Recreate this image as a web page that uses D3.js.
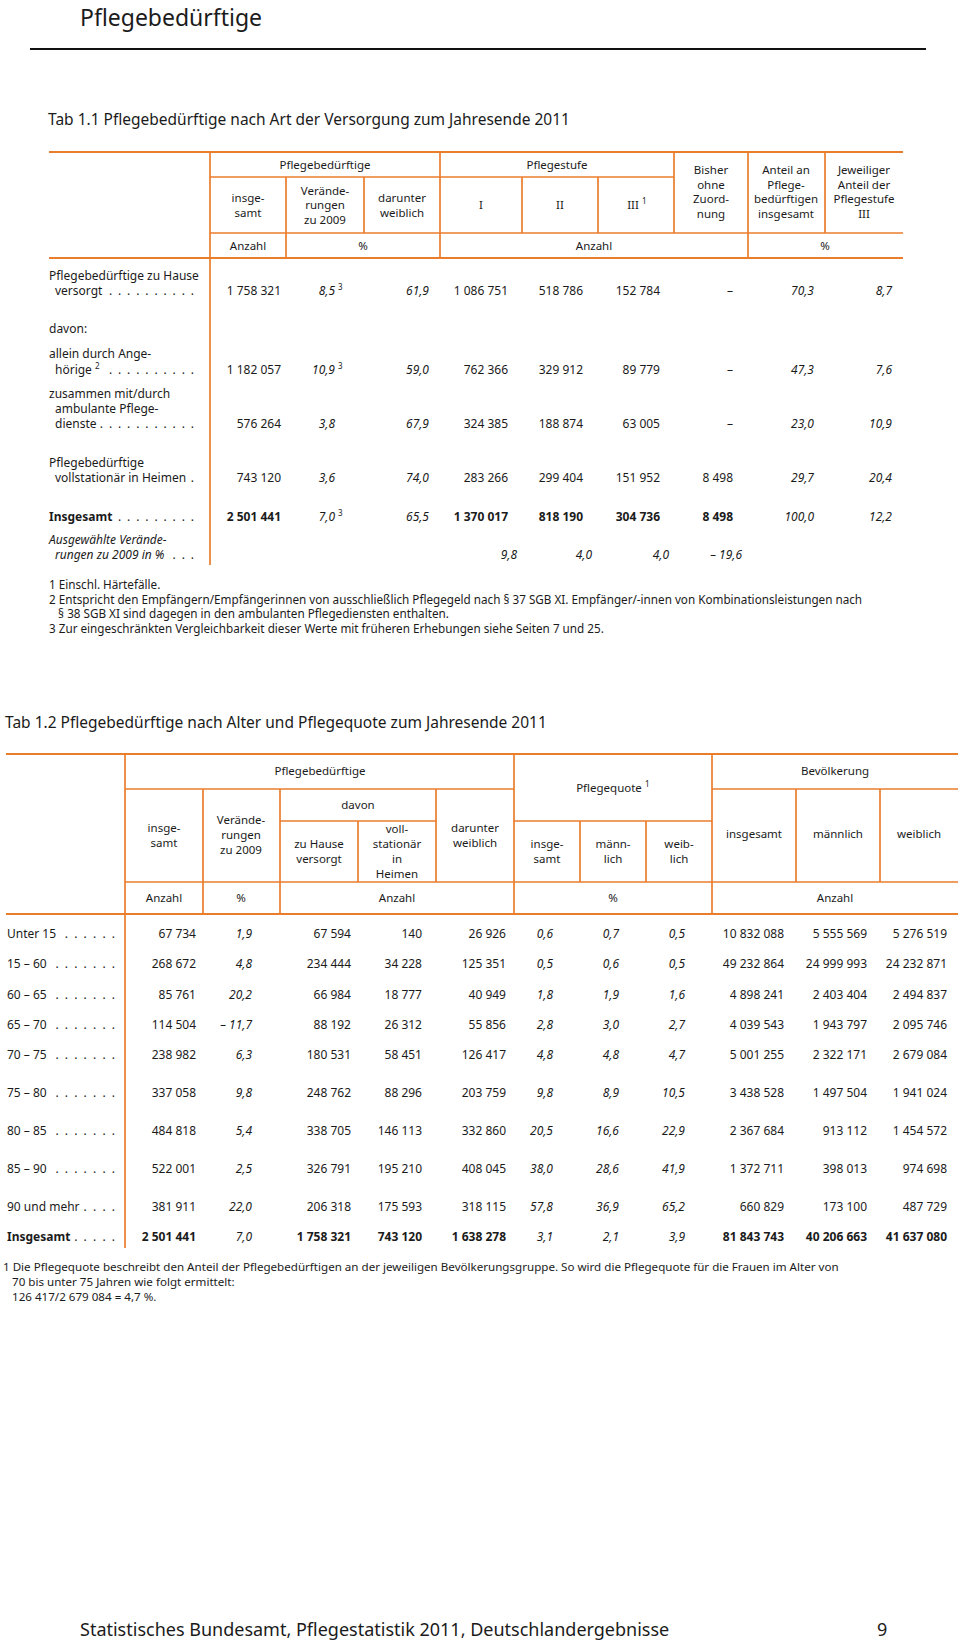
<!DOCTYPE html>
<html><head><meta charset="utf-8">
<script src="https://cdn.jsdelivr.net/npm/d3@7"></script>
<style>
body{margin:0;background:#fff}
svg{display:block}
text{font-family:"Noto Sans",sans-serif;fill:#1b1b1b}
</style>
</head><body><svg id="c" width="960" height="1645"></svg>
<script>
// ---------------- DATA: Tab 1.1 ----------------
const t1RowLabels = [
  ["Pflegebedürftige zu Hause", "versorgt"],
  ["davon:"],
  ["allein durch Ange-", "hörige"],
  ["zusammen mit/durch", "ambulante Pflege-", "dienste"],
  ["Pflegebedürftige", "vollstationär in Heimen"],
  ["Insgesamt"],
  ["Ausgewählte Verände-", "rungen zu 2009 in %"]
];
const t1Insgesamt  = [1758321, 1182057, 576264, 743120, 2501441];
const t1Veraend    = [8.5, 10.9, 3.8, 3.6, 7.0];
const t1VeraendFn3 = [true, true, false, false, true];
const t1Weiblich   = [61.9, 59.0, 67.9, 74.0, 65.5];
const t1StufeI     = [1086751, 762366, 324385, 283266, 1370017];
const t1StufeII    = [518786, 329912, 188874, 299404, 818190];
const t1StufeIII   = [152784, 89779, 63005, 151952, 304736];
const t1OhneZuord  = [null, null, null, 8498, 8498];
const t1Anteil     = [70.3, 47.3, 23.0, 29.7, 100.0];
const t1AnteilIII  = [8.7, 7.6, 10.9, 20.4, 12.2];
const t1Veraend2009 = [9.8, 4.0, 4.0, -19.6]; // I, II, III, ohne Zuordnung

const t1Notes = [
  ["1 Einschl. Härtefälle."],
  ["2 Entspricht den Empfängern/Empfängerinnen von ausschließlich Pflegegeld nach § 37 SGB XI. Empfänger/-innen von Kombinationsleistungen nach",
   "   § 38 SGB XI sind dagegen in den ambulanten Pflegediensten enthalten."],
  ["3 Zur eingeschränkten Vergleichbarkeit dieser Werte mit früheren Erhebungen siehe Seiten 7 und 25."]
];

// ---------------- DATA: Tab 1.2 ----------------
const t2Ages = ["Unter 15", "15 – 60", "60 – 65", "65 – 70", "70 – 75", "75 – 80", "80 – 85", "85 – 90", "90 und mehr", "Insgesamt"];
const t2Insgesamt = [67734, 268672, 85761, 114504, 238982, 337058, 484818, 522001, 381911, 2501441];
const t2Veraend   = [1.9, 4.8, 20.2, -11.7, 6.3, 9.8, 5.4, 2.5, 22.0, 7.0];
const t2ZuHause   = [67594, 234444, 66984, 88192, 180531, 248762, 338705, 326791, 206318, 1758321];
const t2Stationaer= [140, 34228, 18777, 26312, 58451, 88296, 146113, 195210, 175593, 743120];
const t2Weiblich  = [26926, 125351, 40949, 55856, 126417, 203759, 332860, 408045, 318115, 1638278];
const t2QuoteIns  = [0.6, 0.5, 1.8, 2.8, 4.8, 9.8, 20.5, 38.0, 57.8, 3.1];
const t2QuoteM    = [0.7, 0.6, 1.9, 3.0, 4.8, 8.9, 16.6, 28.6, 36.9, 2.1];
const t2QuoteW    = [0.5, 0.5, 1.6, 2.7, 4.7, 10.5, 22.9, 41.9, 65.2, 3.9];
const t2BevIns    = [10832088, 49232864, 4898241, 4039543, 5001255, 3438528, 2367684, 1372711, 660829, 81843743];
const t2BevM      = [5555569, 24999993, 2403404, 1943797, 2322171, 1497504, 913112, 398013, 173100, 40206663];
const t2BevW      = [5276519, 24232871, 2494837, 2095746, 2679084, 1941024, 1454572, 974698, 487729, 41637080];

const t2Notes = [
  "1 Die Pflegequote beschreibt den Anteil der Pflegebedürftigen an der jeweiligen Bevölkerungsgruppe. So wird die Pflegequote für die Frauen im Alter von",
  "   70 bis unter 75 Jahren wie folgt ermittelt:",
  "   126 417/2 679 084 = 4,7 %."
];

// ---------------- RENDER ----------------
const ORANGE = "#ea7d2c";
const svg = d3.select("#c");
svg.append("rect").attr("width", 960).attr("height", 1645).attr("fill", "#fff");

const loc = d3.formatLocale({decimal: ",", thousands: "\u00a0", grouping: [3], currency: ["", ""]});
const fInt = loc.format(",");
const f1 = loc.format(".1f");
const fPct = v => (v < 0 ? "– " : "") + f1(Math.abs(v));

const g = svg.append("g");
function hline(x1, x2, y, w) {
  g.append("line").attr("x1", x1).attr("x2", x2).attr("y1", y).attr("y2", y)
    .attr("stroke", ORANGE).attr("stroke-width", w || 1.7);
}
function vline(x, y1, y2) {
  g.append("line").attr("x1", x).attr("x2", x).attr("y1", y1).attr("y2", y2)
    .attr("stroke", ORANGE).attr("stroke-width", 1.7);
}
function txt(s, x, y, opt) {
  opt = opt || {};
  const t = g.append("text").attr("x", x).attr("y", y).attr("dy", "0.35em")
    .attr("font-size", opt.size || 12)
    .attr("text-anchor", opt.anchor || "start")
    .text(s);
  if (opt.italic) t.attr("font-style", "italic");
  if (opt.bold) t.attr("font-weight", "bold");
  return t;
}
function sup(s, x, y, size) {
  return g.append("text").attr("x", x).attr("y", y - 4).attr("dy", "0.35em")
    .attr("font-size", size || 8).text(s);
}
function headerLines(lines, cx, cy, lh, size) {
  const n = lines.length;
  lines.forEach((l, i) => txt(l, cx, cy + (i - (n - 1) / 2) * lh, {anchor: "middle", size: size || 11.5}));
}
function leaderDots(textSel, yy, xEnd, step) {
  const bb = textSel.node().getBBox();
  const start = bb.x + bb.width + 4;
  for (let x = xEnd; x >= start; x -= step) {
    txt(".", x, yy, {anchor: "end", size: 12});
  }
}

// Title and rule
svg.append("text").attr("x", 80).attr("y", 26).attr("font-size", 23).text("Pflegebedürftige");
svg.append("line").attr("x1", 30).attr("x2", 926).attr("y1", 49).attr("y2", 49).attr("stroke", "#111").attr("stroke-width", 2);

// ========== Table 1.1 ==========
svg.append("text").attr("x", 48).attr("y", 120).attr("dy", "0.35em").attr("font-size", 15.5)
  .text("Tab 1.1 Pflegebedürftige nach Art der Versorgung zum Jahresende 2011");

// header grid
hline(49, 903, 152, 2.2);
hline(210, 674, 177);
hline(210, 903, 233);
hline(49, 903, 258, 2.2);
vline(210, 152, 565);
vline(286, 177, 258);
vline(364, 177, 233);
vline(440, 152, 258);
vline(522, 177, 233);
vline(598, 177, 233);
vline(674, 152, 233);
vline(748, 152, 258);
vline(825, 152, 233);

// header text
txt("Pflegebedürftige", 325, 165, {anchor: "middle", size: 11.5});
txt("Pflegestufe", 557, 165, {anchor: "middle", size: 11.5});
headerLines(["insge-", "samt"], 248, 205, 15);
headerLines(["Verände-", "rungen", "zu 2009"], 325, 205, 14.5);
headerLines(["darunter", "weiblich"], 402, 205, 15);
txt("I", 481, 205, {anchor: "middle", size: 11.5});
txt("II", 560, 205, {anchor: "middle", size: 11.5});
txt("III", 633, 205, {anchor: "middle", size: 11.5});
sup("1", 642, 205);
headerLines(["Bisher", "ohne", "Zuord-", "nung"], 711, 192, 14.7);
headerLines(["Anteil an", "Pflege-", "bedürftigen", "insgesamt"], 786, 192, 14.7);
headerLines(["Jeweiliger", "Anteil der", "Pflegestufe", "III"], 864, 192, 14.7);
txt("Anzahl", 248, 246, {anchor: "middle", size: 11.5});
txt("%", 363, 246, {anchor: "middle", size: 11.5});
txt("Anzahl", 594, 246, {anchor: "middle", size: 11.5});
txt("%", 825, 246, {anchor: "middle", size: 11.5});

// body
const t1LastY = [291, 329, 370, 424, 478, 517, 555];
const t1LineH = [15, 15, 16, 15, 15, 15, 15];
t1RowLabels.forEach((lines, r) => {
  const n = lines.length;
  let last;
  lines.forEach((l, i) => {
    const y = t1LastY[r] - (n - 1 - i) * t1LineH[r];
    last = txt(l, i === 0 ? 49 : 55, y, {size: 12, bold: r === 5, italic: r === 6});
  });
  if (r === 2) { // footnote 2 marker after "hörige"
    const bb = last.node().getBBox();
    last = sup("2", bb.x + bb.width + 3, t1LastY[r]);
  }
  if (r !== 1) leaderDots(last, t1LastY[r], 194, 9.1);
});

const valueRows = [0, 2, 3, 4, 5];
const t1Cols = ["ins", "ver", "wbl", "s1", "s2", "s3", "oz", "ant", "ant3"];
const t1X = d3.scaleOrdinal().domain(t1Cols).range([281, 335, 429, 508, 583, 660, 733, 814, 892]);
const t1Y = d3.scaleOrdinal().domain(valueRows).range(valueRows.map(r => t1LastY[r]));

valueRows.forEach((r, i) => {
  const y = t1Y(r);
  const bold = r === 5;
  txt(fInt(t1Insgesamt[i]), t1X("ins"), y, {anchor: "end", bold});
  txt(f1(t1Veraend[i]), t1X("ver"), y, {anchor: "end", italic: true});
  if (t1VeraendFn3[i]) sup("3", t1X("ver") + 3, y);
  txt(f1(t1Weiblich[i]), t1X("wbl"), y, {anchor: "end", italic: true});
  txt(fInt(t1StufeI[i]), t1X("s1"), y, {anchor: "end", bold});
  txt(fInt(t1StufeII[i]), t1X("s2"), y, {anchor: "end", bold});
  txt(fInt(t1StufeIII[i]), t1X("s3"), y, {anchor: "end", bold});
  txt(t1OhneZuord[i] == null ? "–" : fInt(t1OhneZuord[i]), t1X("oz"), y, {anchor: "end", bold});
  txt(f1(t1Anteil[i]), t1X("ant"), y, {anchor: "end", italic: true});
  txt(f1(t1AnteilIII[i]), t1X("ant3"), y, {anchor: "end", italic: true});
});
["s1", "s2", "s3", "oz"].forEach((c, i) => {
  txt(fPct(t1Veraend2009[i]), t1X(c) + 9, t1LastY[6], {anchor: "end", italic: true});
});

// notes
let ny = 585;
t1Notes.forEach(note => {
  note.forEach(line => {
    g.append("text").attr("x", 49).attr("y", ny).attr("dy", "0.35em").attr("font-size", 11.7)
      .style("white-space", "pre").text(line);
    ny += 14.7;
  });
});

// ========== Table 1.2 ==========
svg.append("text").attr("x", 5).attr("y", 723).attr("dy", "0.35em").attr("font-size", 15.5)
  .text("Tab 1.2 Pflegebedürftige nach Alter und Pflegequote zum Jahresende 2011");

hline(6, 958, 754, 2.2);
hline(125, 514, 789);
hline(712, 958, 789);
hline(280, 436, 821);
hline(514, 712, 821);
hline(125, 958, 882);
hline(6, 958, 914, 2.2);
vline(125, 754, 1248);
vline(203, 789, 914);
vline(280, 789, 914);
vline(358, 821, 882);
vline(436, 789, 882);
vline(514, 754, 914);
vline(580, 821, 882);
vline(646, 821, 882);
vline(712, 754, 914);
vline(796, 789, 882);
vline(880, 789, 882);

txt("Pflegebedürftige", 320, 771, {anchor: "middle", size: 11.5});
txt("Bevölkerung", 835, 771, {anchor: "middle", size: 11.5});
txt("Pflegequote", 609, 788, {anchor: "middle", size: 11.5});
sup("1", 645, 788);
txt("davon", 358, 805, {anchor: "middle", size: 11.5});
headerLines(["insge-", "samt"], 164, 835, 15);
headerLines(["Verände-", "rungen", "zu 2009"], 241, 835, 15);
headerLines(["zu Hause", "versorgt"], 319, 851, 15);
headerLines(["voll-", "stationär", "in", "Heimen"], 397, 851, 15);
headerLines(["darunter", "weiblich"], 475, 835, 15);
headerLines(["insge-", "samt"], 547, 851, 15);
headerLines(["männ-", "lich"], 613, 851, 15);
headerLines(["weib-", "lich"], 679, 851, 15);
txt("insgesamt", 754, 834, {anchor: "middle", size: 11.5});
txt("männlich", 838, 834, {anchor: "middle", size: 11.5});
txt("weiblich", 919, 834, {anchor: "middle", size: 11.5});
txt("Anzahl", 164, 898, {anchor: "middle", size: 11.5});
txt("%", 241, 898, {anchor: "middle", size: 11.5});
txt("Anzahl", 397, 898, {anchor: "middle", size: 11.5});
txt("%", 613, 898, {anchor: "middle", size: 11.5});
txt("Anzahl", 835, 898, {anchor: "middle", size: 11.5});

const t2RowY = [934, 964, 995, 1025, 1055, 1093, 1131, 1169, 1207, 1237];
const t2Y = d3.scaleOrdinal().domain(t2Ages).range(t2RowY);
const t2Cols = ["ins", "ver", "zh", "st", "wbl", "qi", "qm", "qw", "bi", "bm", "bw"];
const t2X = d3.scaleOrdinal().domain(t2Cols).range([196, 252, 351, 422, 506, 553, 619, 685, 784, 867, 947]);

t2Ages.forEach((a, i) => {
  const y = t2Y(a);
  const bold = i === t2Ages.length - 1;
  const lab = txt(a, 7, y, {bold});
  leaderDots(lab, y, 115, 9.4);
  txt(fInt(t2Insgesamt[i]), t2X("ins"), y, {anchor: "end", bold});
  txt(fPct(t2Veraend[i]), t2X("ver"), y, {anchor: "end", italic: true});
  txt(fInt(t2ZuHause[i]), t2X("zh"), y, {anchor: "end", bold});
  txt(fInt(t2Stationaer[i]), t2X("st"), y, {anchor: "end", bold});
  txt(fInt(t2Weiblich[i]), t2X("wbl"), y, {anchor: "end", bold});
  txt(f1(t2QuoteIns[i]), t2X("qi"), y, {anchor: "end", italic: true});
  txt(f1(t2QuoteM[i]), t2X("qm"), y, {anchor: "end", italic: true});
  txt(f1(t2QuoteW[i]), t2X("qw"), y, {anchor: "end", italic: true});
  txt(fInt(t2BevIns[i]), t2X("bi"), y, {anchor: "end", bold});
  txt(fInt(t2BevM[i]), t2X("bm"), y, {anchor: "end", bold});
  txt(fInt(t2BevW[i]), t2X("bw"), y, {anchor: "end", bold});
});

let ny2 = 1267;
t2Notes.forEach(line => {
  g.append("text").attr("x", 3).attr("y", ny2).attr("dy", "0.35em").attr("font-size", 11.6)
    .style("white-space", "pre").text(line);
  ny2 += 15;
});

// footer
svg.append("text").attr("x", 80).attr("y", 1630).attr("dy", "0.35em").attr("font-size", 18)
  .text("Statistisches Bundesamt, Pflegestatistik 2011, Deutschlandergebnisse");
svg.append("text").attr("x", 877).attr("y", 1630).attr("dy", "0.35em").attr("font-size", 18).text("9");
</script></body></html>
